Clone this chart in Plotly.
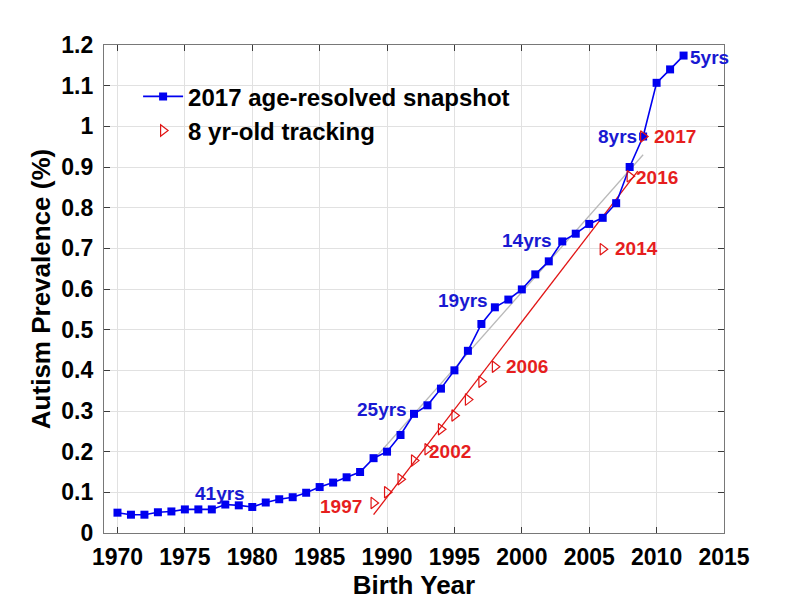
import plotly.graph_objects as go

# Blue: 2017 age-resolved snapshot
snap_years = list(range(1970, 2013))
snap_vals = [0.050, 0.045, 0.045, 0.051, 0.053, 0.058, 0.058, 0.058, 0.070, 0.068,
             0.064, 0.075, 0.083, 0.088, 0.099, 0.113, 0.124, 0.137, 0.150, 0.184,
             0.200, 0.241, 0.293, 0.314, 0.355, 0.400, 0.448, 0.514, 0.555, 0.574,
             0.599, 0.636, 0.668, 0.717, 0.736, 0.760, 0.775, 0.811, 0.900, 0.975,
             1.107, 1.140, 1.174]

# Red: 8 yr-old tracking
track_years = [1989, 1990, 1991, 1992, 1993, 1994, 1995, 1996, 1997, 1998, 2006, 2008, 2009]
track_vals = [0.074, 0.100, 0.132, 0.178, 0.206, 0.255, 0.289, 0.328, 0.372, 0.409, 0.698, 0.877, 0.975]

# Fit lines (endpoints)
red_fit_x = [1989, 2008.6]
red_fit_y = [0.045, 0.890]
gray_fit_x = [1989, 2009]
gray_fit_y = [0.180, 0.930]

# Labels
blue_lbl_text = ["41yrs", "25yrs", "19yrs", "14yrs", "8yrs", "5yrs"]
blue_lbl_x = [1977.6, 1989.6, 1995.6, 2000.4, 2007.1, 2013.9]
blue_lbl_y = [0.098, 0.304, 0.571, 0.720, 0.975, 1.170]
red_lbl_text = ["1997", "2002", "2006", "2014", "2016", "2017"]
red_lbl_x = [1986.6, 1994.7, 2000.4, 2008.5, 2010.0, 2011.4]
red_lbl_y = [0.066, 0.201, 0.409, 0.699, 0.875, 0.975]

x_ticks = list(range(1970, 2016, 5))
y_ticks = [round(i * 0.1, 1) for i in range(13)]
y_ticktext = ["0", "0.1", "0.2", "0.3", "0.4", "0.5", "0.6", "0.7", "0.8", "0.9", "1", "1.1", "1.2"]

BLUE = "rgb(0,0,240)"
RED = "rgb(225,20,20)"
FONT = "Liberation Sans"

fig = go.Figure()
fig.add_trace(go.Scatter(x=gray_fit_x, y=gray_fit_y, mode="lines",
                         line=dict(color="rgb(185,185,185)", width=1.3),
                         showlegend=False, hoverinfo="skip"))
fig.add_trace(go.Scatter(x=red_fit_x, y=red_fit_y, mode="lines",
                         line=dict(color=RED, width=1.3),
                         showlegend=False, hoverinfo="skip"))
fig.add_trace(go.Scatter(x=snap_years, y=snap_vals, mode="lines+markers",
                         name="<b>2017 age-resolved snapshot</b>",
                         line=dict(color=BLUE, width=1.6),
                         marker=dict(symbol="square", size=8, color=BLUE)))
fig.add_trace(go.Scatter(x=track_years, y=track_vals, mode="markers",
                         name="<b>8 yr-old tracking</b>",
                         marker=dict(symbol="triangle-right-open", size=10,
                                     color=RED, line=dict(width=1.2, color=RED))))

for t, x, y in zip(blue_lbl_text, blue_lbl_x, blue_lbl_y):
    fig.add_annotation(x=x, y=y, text="<b>%s</b>" % t, showarrow=False,
                       font=dict(family=FONT, size=19, color="rgb(25,25,210)"))
for t, x, y in zip(red_lbl_text, red_lbl_x, red_lbl_y):
    fig.add_annotation(x=x, y=y, text="<b>%s</b>" % t, showarrow=False,
                       font=dict(family=FONT, size=19, color="rgb(230,30,30)"))

axis_common = dict(showgrid=True, gridcolor="rgb(225,225,225)", gridwidth=1,
                   showline=True, linecolor="rgb(120,120,120)", linewidth=1.2,
                   mirror="ticks", ticks="inside", ticklen=6, tickcolor="rgb(60,60,60)",
                   zeroline=False,
                   tickfont=dict(family=FONT, size=23, color="black"))

fig.update_xaxes(range=[1969, 2015], tickvals=x_ticks,
                 ticktext=["<b>%d</b>" % v for v in x_ticks],
                 ticklabelstandoff=3,
                 title=dict(text="<b>Birth Year</b>", font=dict(family=FONT, size=26, color="black"), standoff=0),
                 **axis_common)
fig.update_yaxes(range=[0, 1.2], tickvals=y_ticks,
                 ticktext=["<b>%s</b>" % s for s in y_ticktext],
                 ticklabelstandoff=5,
                 title=dict(text="<b>Autism Prevalence (%)</b>", font=dict(family=FONT, size=26, color="black"), standoff=3),
                 **axis_common)

fig.update_layout(
    width=800, height=600,
    margin=dict(l=104, r=76, t=45, b=65),
    plot_bgcolor="white", paper_bgcolor="white",
    font=dict(family=FONT, color="black"),
    legend=dict(x=0.055, y=0.94, xanchor="left", yanchor="top",
                bgcolor="rgba(255,255,255,0)", borderwidth=0,
                font=dict(family=FONT, size=24, color="black"),
                itemwidth=40, tracegroupgap=0),
)

fig.write_html("out.html")
